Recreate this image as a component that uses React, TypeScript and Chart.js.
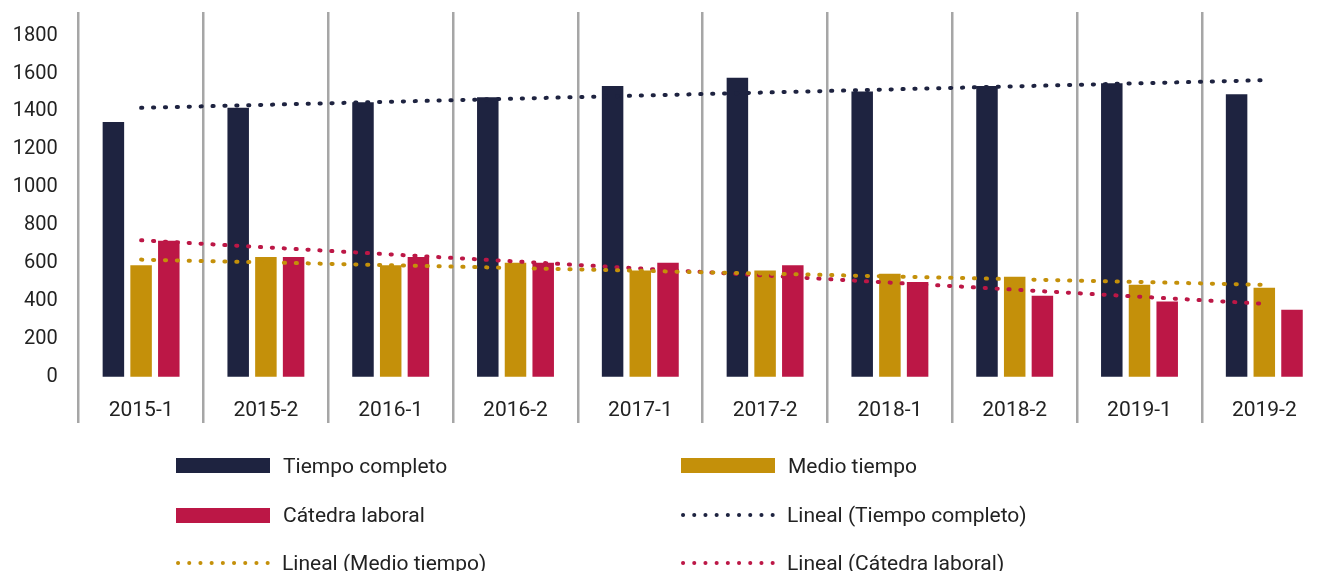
import React, { useEffect, useRef } from "react";
import { Chart, registerables } from "chart.js";

Chart.register(...registerables);

const categories = ["2015-1", "2015-2", "2016-1", "2016-2", "2017-1", "2017-2", "2018-1", "2018-2", "2019-1", "2019-2"];
const tiempoCompleto = [1345, 1419, 1449, 1475, 1535, 1578, 1505, 1534, 1549, 1491];
const medioTiempo = [588, 632, 588, 602, 560, 560, 544, 528, 485, 469];
const catedraLaboral = [718, 632, 632, 602, 602, 588, 500, 427, 397, 353];
// Trend lines (Excel linear trendlines) – start and end values
const trendTiempoCompleto = [1419, null, null, null, null, null, null, null, null, 1565];
const trendMedioTiempo = [618, null, null, null, null, null, null, null, null, 485];
const trendCatedraLaboral = [720, null, null, null, null, null, null, null, null, 385];
const yTicks = [0, 200, 400, 600, 800, 1000, 1200, 1400, 1600, 1800];

const seriesNames = [
  "Tiempo completo",
  "Medio tiempo",
  "Cátedra laboral",
  "Lineal (Tiempo completo)",
  "Lineal (Medio tiempo)",
  "Lineal (Cátedra laboral)",
];

const NAVY = "#1e2340";
const GOLD = "#c4900a";
const CRIMSON = "#bc1746";
const TEXT = "#222222";
const FONT = "Roboto, 'Liberation Sans', sans-serif";

const legendItems = [
  { name: seriesNames[0], color: NAVY, kind: "box" },
  { name: seriesNames[1], color: GOLD, kind: "box" },
  { name: seriesNames[2], color: CRIMSON, kind: "box" },
  { name: seriesNames[3], color: NAVY, kind: "dots" },
  { name: seriesNames[4], color: GOLD, kind: "dots" },
  { name: seriesNames[5], color: CRIMSON, kind: "dots" },
];

function LegendMarker({ kind, color }: { kind: string; color: string }) {
  if (kind === "box") {
    return <div style={{ width: 94, height: 15, background: color }} />;
  }
  return (
    <svg width={96} height={8} style={{ display: "block", marginLeft: -1, marginRight: -2 }}>
      <line
        x1={3}
        y1={4}
        x2={94}
        y2={4}
        stroke={color}
        strokeWidth={4}
        strokeLinecap="round"
        strokeDasharray="0.1 11.1"
      />
    </svg>
  );
}

export default function App() {
  const canvasRef = useRef<HTMLCanvasElement | null>(null);

  useEffect(() => {
    const canvas = canvasRef.current;
    if (!canvas) return;
    const trendStyle = (color: string) => ({
      type: "line" as const,
      borderColor: color,
      backgroundColor: color,
      borderWidth: 4,
      borderDash: [1.2, 10.7],
      borderCapStyle: "round" as const,
      pointRadius: 0,
      spanGaps: true,
      fill: false,
      order: 0,
    });
    const chart = new Chart(canvas, {
      type: "bar",
      data: {
        labels: categories,
        datasets: [
          { ...trendStyle(NAVY), label: seriesNames[3], data: trendTiempoCompleto },
          { ...trendStyle(GOLD), label: seriesNames[4], data: trendMedioTiempo },
          { ...trendStyle(CRIMSON), label: seriesNames[5], data: trendCatedraLaboral },
          { type: "bar", label: seriesNames[0], data: tiempoCompleto, backgroundColor: NAVY, order: 1 },
          { type: "bar", label: seriesNames[1], data: medioTiempo, backgroundColor: GOLD, order: 1 },
          { type: "bar", label: seriesNames[2], data: catedraLaboral, backgroundColor: CRIMSON, order: 1 },
        ] as any,
      },
      options: {
        responsive: false,
        animation: false,
        datasets: { bar: { categoryPercentage: 0.666, barPercentage: 0.776 } },
        layout: { padding: { left: 13, right: 13.3, top: 12, bottom: 148 } },
        plugins: { legend: { display: false }, tooltip: { enabled: false } },
        scales: {
          x: {
            position: { y: 0 },
            offset: true,
            grid: { offset: true, color: "#a6a6a6", lineWidth: 2.5, drawTicks: false, drawOnChartArea: true },
            border: { display: false },
            ticks: {
              padding: 21,
              color: TEXT,
              autoSkip: false,
              maxRotation: 0,
              font: { family: FONT, size: 21 },
            },
          },
          y: {
            min: -244.4,
            max: 1925,
            grid: { display: false, drawTicks: false },
            border: { display: false },
            afterBuildTicks: (scale: any) => {
              scale.ticks = yTicks.map((v) => ({ value: v }));
            },
            afterFit: (scale: any) => {
              scale.width = 65.7;
              scale.paddingTop = 0;
              scale.paddingBottom = 0;
            },
            ticks: {
              padding: 21,
              color: TEXT,
              font: { family: FONT, size: 20 },
              callback: (v: any) => String(v),
            },
          },
        },
      } as any,
    });
    return () => chart.destroy();
  }, []);

  const colX = [176, 681];
  const rowY = [465.5, 515, 563];

  return (
    <div
      style={{
        position: "absolute",
        left: 0,
        top: 0,
        width: 1317,
        height: 571,
        overflow: "hidden",
        background: "#ffffff",
      }}
    >
      <canvas ref={canvasRef} width={1340} height={571} style={{ display: "block", width: 1340, height: 571 }} />
      {legendItems.map((it, i) => {
        const col = i % 2;
        const row = Math.floor(i / 2);
        return (
          <div
            key={it.name}
            style={{
              position: "absolute",
              left: colX[col],
              top: rowY[row] - 15,
              height: 30,
              display: "flex",
              alignItems: "center",
              whiteSpace: "nowrap",
            }}
          >
            <LegendMarker kind={it.kind} color={it.color} />
            <span
              style={{
                marginLeft: 13,
                fontFamily: FONT,
                fontSize: 21,
                color: TEXT,
                lineHeight: "30px",
              }}
            >
              {it.name}
            </span>
          </div>
        );
      })}
    </div>
  );
}
